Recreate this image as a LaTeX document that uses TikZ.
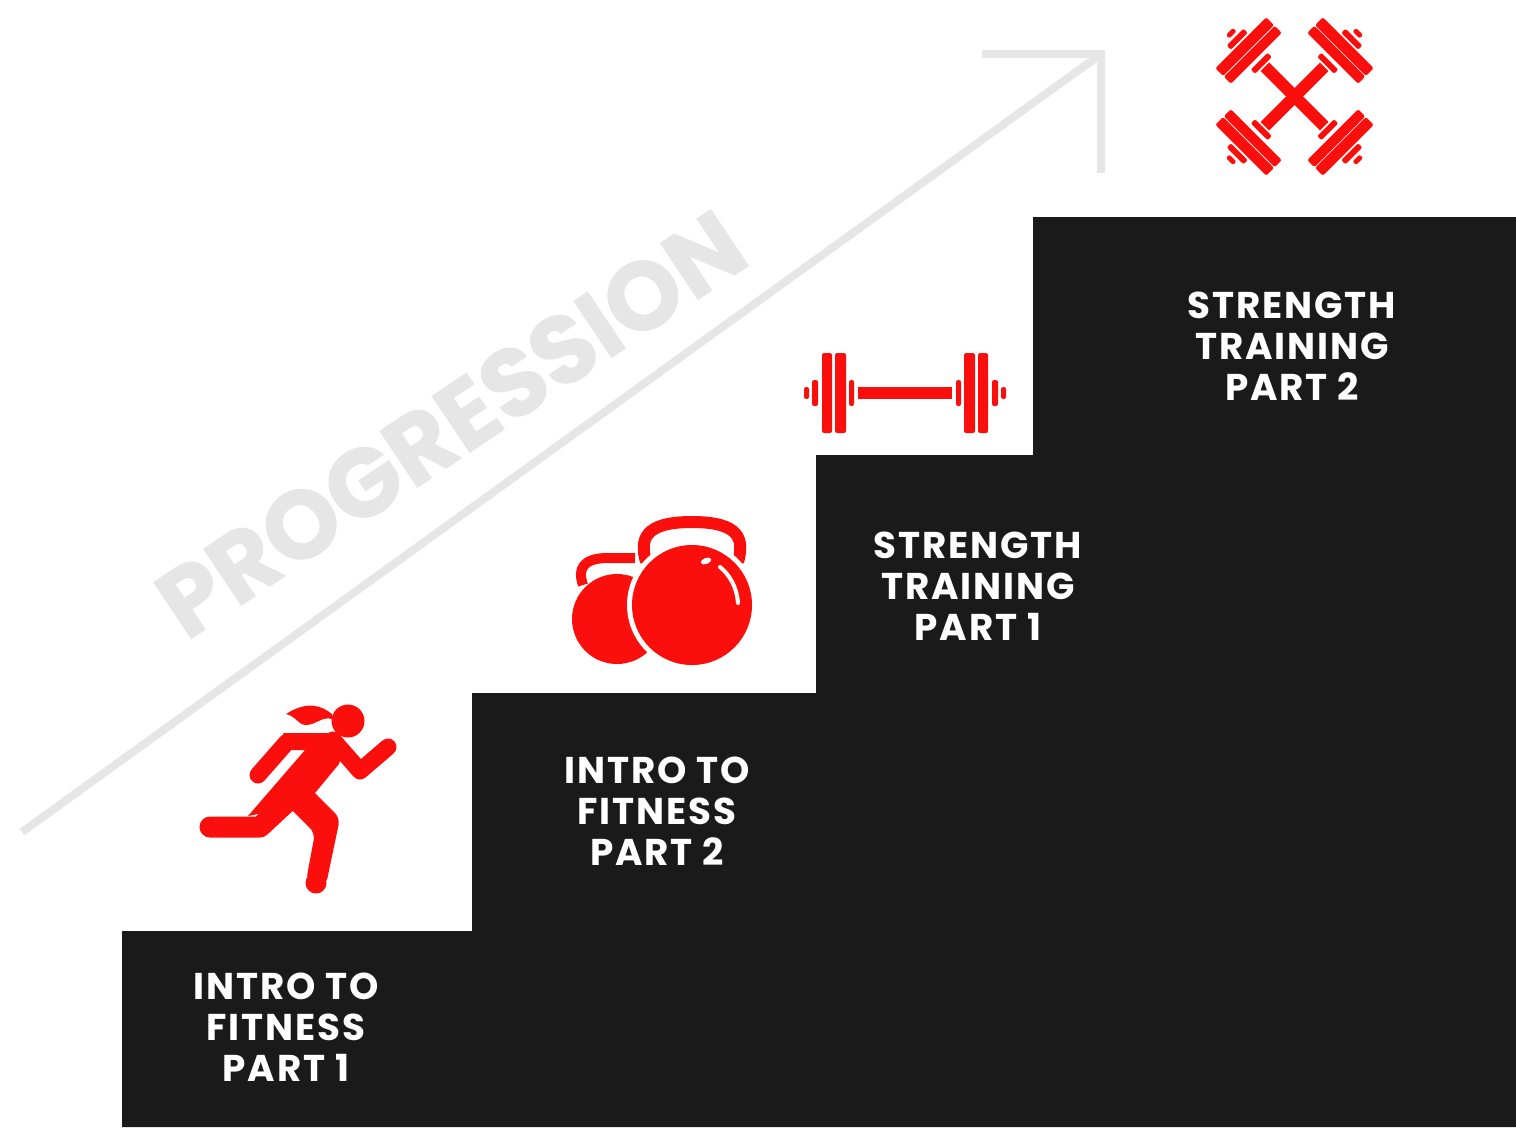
\documentclass[tikz,border=0pt]{standalone}
\usepackage{fontspec}
\setmainfont{Poppins}
\newfontfamily\steplabelfont{Poppins}[LetterSpace=5]
\newfontfamily\progressionfont{Poppins}[BoldFeatures={FakeBold=1}]
\usetikzlibrary{positioning}
\definecolor{stairblack}{HTML}{1A1A1A}
\definecolor{iconred}{HTML}{FB0F0C}
\definecolor{arrowgray}{HTML}{E6E6E6}
\tikzset{
  steplabel/.style={text=white, align=center, font=\fontsize{10.6}{11.6}\selectfont\steplabelfont\bfseries},
  plate/.style={fill=iconred, rounded corners=0.6pt},
  limb/.style={draw=iconred, line cap=round, line join=round},
}

\begin{document}
\begin{tikzpicture}[x=0.01cm, y=-0.01cm]
  \useasboundingbox (0,0) rectangle (1516,1127);

  % Escalier
  \fill[stairblack] (122,1127) -- (122,931) -- (472,931) -- (472,693) -- (816,693) -- (816,455)
    -- (1033,455) -- (1033,217) -- (1516,217) -- (1516,1127) -- cycle;

  \node[steplabel] (intropartone) at (286,1027) {INTRO TO\\FITNESS\\PART 1};
  \node[steplabel] (introparttwo) at (657,811) {INTRO TO\\FITNESS\\PART 2};
  \node[steplabel] (strengthpartone) at (978,586) {STRENGTH\\TRAINING\\PART 1};
  \node[steplabel] (strengthparttwo) at (1292,346) {STRENGTH\\TRAINING\\PART 2};

  % Fleche de progression
  \coordinate (arrowstart) at (22,832);
  \coordinate (arrowtip) at (1101,54);
  \coordinate (headleft) at (982,54);
  \coordinate (headdown) at (1101,173);
  \draw[arrowgray, line width=0.8mm] (arrowstart) -- (arrowtip);
  \draw[arrowgray, line width=0.8mm] (headleft) -- (arrowtip) -- (headdown);
  \node[text=arrowgray, rotate=33.8, font=\fontsize{27.4}{27.4}\selectfont\progressionfont\bfseries] (progressionlabel) at (451,424) {PROGRESSION};

  % Coureuse
  \fill[iconred] (348,721) circle (16.5);
  \fill[iconred] (332,714) .. controls (322,706) and (308,700) .. (286,714)
    .. controls (296,716) and (298,725) .. (306,725) .. controls (316,725) and (322,716) .. (332,719) -- cycle;
  \fill[iconred] (283,733) -- (333,733) -- (345,745) -- (339,764) -- (315,793) -- (290,808) -- (248,816) -- (305,750) -- (292,750) -- cycle;
  \draw[limb, line width=1.7mm] (258,775) -- (287,742);
  \draw[limb, line width=1.7mm] (333,740) -- (360,771) -- (388,747);
  \draw[limb, line width=2.1mm] (210,827) -- (260,827) -- (303,787);
  \fill[iconred, rounded corners=2pt] (310,788) -- (340,818) -- (326,885) -- (306,881) -- (315,833) -- (285,803) -- cycle;
  \fill[iconred] (316,883) circle (10.5);

  % Kettlebells
  \draw[iconred, line width=1mm] (583,585) .. controls (577,568) and (584,559) .. (605,558) -- (635,558);
  \fill[iconred] (617,619) circle (45);
  \draw[iconred, line width=1.2mm] (646,562) .. controls (640,540) and (643,522) .. (692,522)
    .. controls (741,522) and (744,540) .. (738,562);
  \fill[white] (692,605) circle (65);
  \fill[iconred] (692,605) circle (60);
  \fill[white, rotate around={20:(706,561)}] (706,561) ellipse (5.5 and 3);
  \draw[white, line width=0.4mm, line cap=round] (720,567) .. controls (730,575) and (737,588) .. (738,603);

  % Haltere
  \fill[iconred] (858,387) rectangle (952,399);
  \foreach \side in {1,-1} {
    \begin{scope}[shift={(905,393)}, xscale=\side]
      \foreach \xa/\xb/\hh in {51/56/13, 59/70/40, 73/83/40, 87/93/13, 96/101/6}
        \fill[plate] (\xa,-\hh) rectangle (\xb,\hh);
    \end{scope}
  }

  % Halteres croises
  \foreach \ang in {45,135,225,315} {
    \begin{scope}[shift={(1294.5,96.5)}, rotate=\ang]
      \fill[iconred] (0,-6) rectangle (42,6);
      \foreach \xa/\xb/\hh in {44/50/12, 54/64/36, 65/76/36, 78/84/12, 87/92/5}
        \fill[plate] (\xa,-\hh) rectangle (\xb,\hh);
    \end{scope}
  }
\end{tikzpicture}
\end{document}
